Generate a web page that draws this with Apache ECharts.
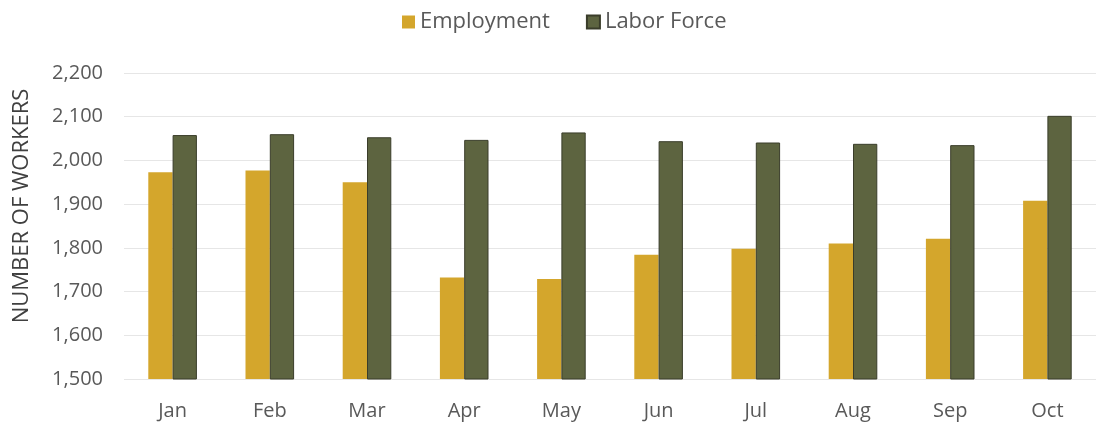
<!DOCTYPE html>
<html>
<head>
<meta charset="utf-8">
<script src="https://cdn.jsdelivr.net/npm/echarts@6/dist/echarts.min.js"></script>
<style>
  html, body { margin: 0; padding: 0; background: #fff; }
  #chart { width: 1096px; height: 423px; }
</style>
</head>
<body>
<div id="chart"></div>
<script>
// Monthly workers: employed vs. total labor force
const months = ['Jan', 'Feb', 'Mar', 'Apr', 'May', 'Jun', 'Jul', 'Aug', 'Sep', 'Oct'];
const employment = [1973, 1977, 1950, 1732, 1729, 1784, 1798, 1810, 1821, 1908];
const laborForce = [2058, 2060, 2053, 2047, 2064, 2044, 2041, 2038, 2035, 2102];

const FONT = '"Open Sans", Lato, sans-serif';
const chart = echarts.init(document.getElementById('chart'), null, { renderer: 'canvas' });

chart.setOption({
  animation: false,
  backgroundColor: '#ffffff',
  textStyle: { fontFamily: FONT },
  legend: {
    top: 6,
    left: 397,
    icon: 'rect',
    itemWidth: 13,
    itemHeight: 13,
    itemGap: 36,
    textStyle: { fontSize: 22, color: '#595959', fontFamily: FONT },
    data: ['Employment', 'Labor Force']
  },
  grid: { left: 124, right: -7, top: 73, bottom: 44, containLabel: false },
  xAxis: {
    type: 'category',
    data: months,
    axisLine: { show: false },
    axisTick: { show: false },
    axisLabel: { fontSize: 20, color: '#595959', margin: 22, fontFamily: FONT }
  },
  yAxis: {
    type: 'value',
    min: 1500,
    max: 2200,
    interval: 100,
    name: 'NUMBER OF WORKERS',
    nameLocation: 'middle',
    nameRotate: 90,
    nameGap: 91,
    nameTextStyle: { fontSize: 22, color: '#404040', fontFamily: FONT, padding: [0, 0, 0, 40] },
    axisLine: { show: false },
    axisTick: { show: false },
    axisLabel: {
      fontSize: 20, color: '#595959', margin: 21, fontFamily: FONT,
      formatter: v => v.toLocaleString('en-US')
    },
    splitLine: { lineStyle: { color: '#e6e6e6', width: 1 } }
  },
  series: [
    {
      name: 'Employment',
      type: 'bar',
      data: employment,
      barGap: '0%',
      barCategoryGap: '50%',
      itemStyle: { color: '#d4a62c' }
    },
    {
      name: 'Labor Force',
      type: 'bar',
      data: laborForce,
      barGap: '0%',
      barCategoryGap: '50%',
      itemStyle: { color: '#5d6440', borderColor: '#3a3d2a', borderWidth: 1 }
    }
  ]
});
</script>
</body>
</html>
